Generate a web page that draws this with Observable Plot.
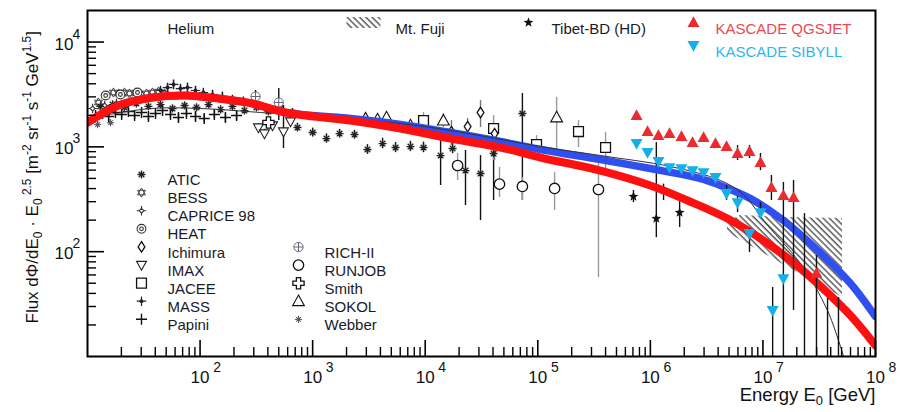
<!DOCTYPE html>
<html><head><meta charset="utf-8">
<script src="https://cdn.jsdelivr.net/npm/d3@7"></script>
<script src="https://cdn.jsdelivr.net/npm/@observablehq/plot@0.6"></script>
<style>body{margin:0;background:#fff;}</style>
</head><body><div id="chart"></div>
<script>
// ---------- model curves (E [GeV], flux) ----------
const redE  = [10, 18.8, 37.8, 74.3, 146, 292, 574, 2170, 6030, 16800, 46700, 106000, 360000, 1.0e6, 2.14e6, 4.84e6, 1.1e7, 2.16e7, 3.06e7, 6.0e7, 1.0e8];
const redF  = [1707, 2483, 2958, 3090, 2891, 2592, 2128, 1783, 1497, 1201, 986, 791, 594, 428, 308, 207, 120, 69, 49.7, 24.6, 12.7];
const blueE = [10, 18.8, 37.8, 74.3, 146, 292, 574, 2170, 6030, 16800, 46700, 106000, 360000, 1.0e6, 2.79e6, 4.2e6, 7.76e6, 1.52e7, 3.06e7, 6.0e7, 1.0e8];
const blueF = [1707, 2483, 2958, 3090, 2891, 2592, 2128, 1862, 1633, 1371, 1125, 944, 757, 621, 499, 428, 321, 198, 103, 49.7, 24];
const thinE = [10, 36.3, 101, 344, 1443, 6030, 16800, 106000, 360000, 1.51e6, 4.2e6, 6.7e6, 1.1e7, 2.16e7, 3.75e7, 5.2e7];
const thinF = [1862, 2322, 2322, 2128, 1905, 1670, 1432, 1007, 827, 649, 478, 351, 178, 77, 27.4, 10];
// Mt. Fuji band
const fujiE  = [4.84e6, 6.3e6, 1.5e7, 5.1e7];
const fujiLo = [152, 129, 76, 36.5];
const fujiHi = [190, 222, 212, 207];

// ---------- direct measurements ----------
const aticE = [13.0, 16.7, 21.3, 27.2, 34.8, 44.5, 56.9, 72.8, 93.0, 119, 152, 194, 248, 317, 405, 518, 662, 733, 1000, 1327, 1735, 2355, 3070, 4180, 5450, 7400, 9660, 13700, 17500, 22800, 31000, 40500, 73000];
const aticF = [2430, 2535, 2375, 2590, 2430, 2535, 2320, 2480, 2375, 2535, 2270, 2430, 2220, 2375, 2175, 2320, 2130, 1530, 1371, 1201, 1340, 1312, 944, 1076, 986, 1007, 986, 826, 965, 594, 557, 864, 2081];
const aticLo = [2250, 2350, 2200, 2400, 2250, 2350, 2150, 2300, 2200, 2350, 2100, 2250, 2050, 2200, 2000, 2130, 1950, 1400, 1250, 1090, 1220, 1190, 850, 960, 880, 900, 880, 428, 860, 276, 198, 308, 308];
const aticHi = [2620, 2730, 2560, 2790, 2620, 2730, 2500, 2670, 2560, 2730, 2450, 2620, 2400, 2560, 2350, 2500, 2320, 1680, 1510, 1330, 1470, 1440, 1050, 1210, 1100, 1130, 1110, 1430, 1080, 923, 826, 1497, 3228];

const bessE = [12.5, 17.0, 18.9, 21.3, 23.6, 26.7, 30.2, 33.4, 37.8, 42.7, 48.3];
const bessF = [2650, 3300, 3230, 3300, 3230, 3300, 3160, 3230, 3300, 3370, 3230];
const bessErr = [0.05, 0.04, 0.04, 0.05, 0.04, 0.05, 0.04, 0.05, 0.05, 0.06, 0.05];

const capE = [11.1, 14.2, 18.1];
const capF = [2320, 2480, 2590];
const capErr = [0.06, 0.06, 0.07];

const heatE = [14.5, 19.6, 27.8];
const heatF = [3090, 3160, 3300];
const heatErr = [0.06, 0.07, 0.08];

const ichE = [17100, 23800, 31000, 41300];
const ichF = [1400, 1563, 2128, 1340];
const ichLo = [1030, 1280, 1530, 741];
const ichHi = [1780, 1862, 2770, 1633];

const imaxE = [330, 373, 440, 551, 636];
const imaxF = [1530, 1340, 1600, 1400, 1745];
const imaxLo = [1400, 1220, 1470, 965, 1600];
const imaxHi = [1670, 1470, 1740, 2483, 1900];

const jaceeE = [9660, 40500, 97500, 230000, 400000];
const jaceeF = [1780, 1497, 1053, 1400, 986];
const jaceeLo = [1430, 741, 965, 986, 621];
const jaceeHi = [2128, 1990, 1280, 1780, 1371];

const massE = [44.5, 51.4, 58.1, 67.0, 77.3, 91.1, 107, 129, 158, 194, 243];
const massF = [3450, 3680, 3940, 3600, 3680, 3450, 3300, 3160, 3020, 2830, 2710];
const massErr = [0.08, 0.09, 0.1, 0.09, 0.1, 0.09, 0.08, 0.09, 0.1, 0.09, 0.1];

const papE = [11.8, 13.6, 15.4, 17.7, 20.1, 23.1, 26.2, 30.2, 34.8, 40.2, 46.4, 54.6, 64.3, 75.7, 91.1, 109, 134, 168, 211];
const papF = [1990, 2080, 1950, 2130, 2035, 2170, 1990, 2130, 1950, 2080, 2220, 2035, 1905, 2080, 1950, 1862, 2035, 1905, 1990];
const papErr = [0.08, 0.07, 0.09, 0.07, 0.08, 0.07, 0.08, 0.07, 0.09, 0.08, 0.07, 0.08, 0.09, 0.08, 0.1, 0.1, 0.09, 0.1, 0.11];

const richE = [311, 500];
const richF = [3023, 2650];
const richLo = [2483, 1780];
const richHi = [3450, 3600];

const runE = [19400, 45700, 73000, 141000, 346000];
const runF = [664, 441, 419, 401, 392];
const runLo = [478, 329, 308, 247, 56.6];
const runHi = [864, 635, 510, 569, 693];

const smithE = [405];
const smithF = [1707];
const smithLo = [1550];
const smithHi = [1880];

const sokolE = [2950, 3770, 4530, 7400, 14500, 147000];
const sokolF = [1862, 1823, 1905, 1600, 1780, 1905];
const sokolLo = [1750, 1700, 1790, 1500, 1530, 923];
const sokolHi = [1990, 1950, 2030, 1710, 2081, 2958];

const webE = [12.3, 16.0];
const webF = [1630, 1700];
const webErr = [0.06, 0.06];

// ---------- air-shower measurements ----------
const tibE = [7.08e5, 1.13e6, 1.31e6, 1.82e6];
const tibF = [336, 207, 383, 236];
const tibLo = [294, 136, 308, 170];
const tibHi = [383, 1100, 441, 322];

const qgsE = [7.54e5, 9.44e5, 1.18e6, 1.48e6, 1.89e6, 2.37e6, 2.97e6, 3.79e6, 4.75e6, 5.95e6, 7.60e6, 9.51e6, 1.19e7, 1.52e7, 1.87e7, 2.99e7];
const qgsF = [1990, 1400, 1280, 1340, 1256, 1100, 1228, 1076, 1007, 864, 903, 709, 409, 343, 329, 62];
const qgsLo = [1990, 1400, 1280, 1340, 1256, 1100, 1228, 1076, 1007, 741, 774, 594, 308, 82, 27.5, 10];
const qgsHi = [1990, 1400, 1280, 1340, 1256, 1100, 1228, 1076, 1007, 1030, 1030, 864, 533, 457, 478, 92];

const sibE = [7.54e5, 9.44e5, 1.18e6, 1.48e6, 1.89e6, 2.37e6, 2.97e6, 3.79e6, 4.75e6, 5.95e6, 7.60e6, 9.51e6, 1.22e7, 1.52e7, 2.34e7, 3.75e7, 4.69e7];
const sibF = [1076, 883, 725, 635, 621, 594, 569, 510, 359, 294, 149, 236, 27.5, 55.4, 6, 6, 6];
const sibLo = [1076, 883, 725, 635, 621, 594, 569, 510, 308, 236, 98, 221, 9, 9, 5, 5, 5];
const sibHi = [1076, 883, 725, 635, 621, 594, 569, 510, 428, 336, 166, 294, 45.5, 103, 231, 35.7, 36.5];

// ---------- axis ticks & legend labels ----------
const xMajor = [1e2, 1e3, 1e4, 1e5, 1e6, 1e7, 1e8];
const yMajor = [1e2, 1e3, 1e4];
const leftLegend = ["ATIC", "BESS", "CAPRICE 98", "HEAT", "Ichimura", "IMAX", "JACEE", "MASS", "Papini"];
const rightLegend = ["RICH-II", "RUNJOB", "Smith", "SOKOL", "Webber"];
const yTitle = "Flux dΦ/dE0 · E0 2.5 [m-2 sr-1 s-1 GeV1.5]";
const xTitle = "Energy E0 [GeV]";

// ---------- helpers ----------
const pts = (E, F, lo, hi) => E.map((e, i) => ({E: e, F: F[i], lo: lo[i], hi: hi[i]}));
const ptsRel = (E, F, err) => E.map((e, i) => ({E: e, F: F[i], lo: F[i] * (1 - err[i]), hi: F[i] * (1 + err[i])}));
const curve = (E, F) => E.map((e, i) => ({E: e, F: F[i]}));
const xMinor = [], yMinor = [];
for (let n = 1; n < 8; n++) for (let k = 2; k < 10; k++) xMinor.push(k * 10 ** n);
for (let n = 1; n < 5; n++) for (let k = 2; k < 10; k++) if (k * 10 ** n < 2e4) yMinor.push(k * 10 ** n);

// ---------- symbols ----------
const R = s => Math.sqrt(s / Math.PI);
const S = {
  triUp: {draw(c, s) { const r = R(s); c.moveTo(0, -r); c.lineTo(r * 0.95, r * 0.7); c.lineTo(-r * 0.95, r * 0.7); c.closePath(); }},
  triDown: {draw(c, s) { const r = R(s); c.moveTo(0, r); c.lineTo(r * 0.95, -r * 0.7); c.lineTo(-r * 0.95, -r * 0.7); c.closePath(); }},
  square: {draw(c, s) { const r = R(s) * 0.85; c.rect(-r, -r, 2 * r, 2 * r); }},
  circle: {draw(c, s) { const r = R(s); c.moveTo(r, 0); c.arc(0, 0, r, 0, 2 * Math.PI); c.closePath(); }},
  diamond: {draw(c, s) { const r = R(s); c.moveTo(0, -r); c.lineTo(r * 0.65, 0); c.lineTo(0, r); c.lineTo(-r * 0.65, 0); c.closePath(); }},
  plus: {draw(c, s) { const r = R(s); c.moveTo(-r, 0); c.lineTo(r, 0); c.moveTo(0, -r); c.lineTo(0, r); }},
  asterisk: {draw(c, s) { const r = R(s); for (let k = 0; k < 4; k++) { const a = k * Math.PI / 4, x = r * Math.cos(a), y = r * Math.sin(a); c.moveTo(-x, -y); c.lineTo(x, y); } }},
  hexagram: {draw(c, s) { const r = R(s); for (const off of [-Math.PI / 2, Math.PI / 2]) { for (let k = 0; k < 3; k++) { const a = off + k * 2 * Math.PI / 3, x = r * Math.cos(a), y = r * Math.sin(a); k ? c.lineTo(x, y) : c.moveTo(x, y); } c.closePath(); } }},
  caprice: {draw(c, s) { const r = R(s), q = r * 0.5; c.moveTo(0, -q); c.lineTo(q, 0); c.lineTo(0, q); c.lineTo(-q, 0); c.closePath(); c.moveTo(0, -r); c.lineTo(0, -q); c.moveTo(0, q); c.lineTo(0, r); c.moveTo(-r, 0); c.lineTo(-q, 0); c.moveTo(q, 0); c.lineTo(r, 0); }},
  heat: {draw(c, s) { const r = R(s), q = r * 0.42; c.moveTo(r, 0); c.arc(0, 0, r, 0, 2 * Math.PI); c.closePath(); c.moveTo(q, 0); c.arc(0, 0, q, 0, 2 * Math.PI); c.closePath(); }},
  mass: {draw(c, s) { const r = R(s), q = r * 0.3; c.moveTo(-r, 0); c.lineTo(r, 0); c.moveTo(0, -r); c.lineTo(0, r); c.moveTo(q, 0); c.arc(0, 0, q, 0, 2 * Math.PI); }},
  rich: {draw(c, s) { const r = R(s); c.moveTo(r, 0); c.arc(0, 0, r, 0, 2 * Math.PI); c.closePath(); c.moveTo(-r, 0); c.lineTo(r, 0); c.moveTo(0, -r); c.lineTo(0, r); }},
  smith: {draw(c, s) { const r = R(s), w = r * 0.38; const p = [[-w,-r],[w,-r],[w,-w],[r,-w],[r,w],[w,w],[w,r],[-w,r],[-w,w],[-r,w],[-r,-w],[-w,-w]]; p.forEach(([x, y], i) => i ? c.lineTo(x, y) : c.moveTo(x, y)); c.closePath(); }},
  webber: {draw(c, s) { const r = R(s); for (let k = 0; k < 4; k++) { const a = k * Math.PI / 4, x = r * Math.cos(a), y = r * Math.sin(a); c.moveTo(-x, -y); c.lineTo(x, y); } const q = r * 0.45; c.moveTo(q, 0); c.arc(0, 0, q, 0, 2 * Math.PI); }},
  star5: {draw(c, s) { const r = R(s), ri = r * 0.42; for (let k = 0; k < 10; k++) { const a = -Math.PI / 2 + k * Math.PI / 5, rr = k % 2 ? ri : r; k ? c.lineTo(rr * Math.cos(a), rr * Math.sin(a)) : c.moveTo(rr * Math.cos(a), rr * Math.sin(a)); } c.closePath(); }},
  swatch: {draw(c) { c.rect(-17, -5.5, 34, 11); }}
};

const ST = {
  "ATIC": {symbol: S.asterisk, r: 4, stroke: "#222", fill: "none", sw: 1.3, bar: "#111"},
  "BESS": {symbol: S.hexagram, r: 4.6, stroke: "#444", fill: "white", sw: 1, bar: "#333"},
  "CAPRICE 98": {symbol: S.caprice, r: 4.8, stroke: "#334", fill: "white", sw: 1.1, bar: "#333"},
  "HEAT": {symbol: S.heat, r: 4.4, stroke: "#333", fill: "white", sw: 1.1, bar: "#333"},
  "Ichimura": {symbol: S.diamond, r: 5.2, stroke: "#111", fill: "white", sw: 1.3, bar: "#777"},
  "IMAX": {symbol: S.triDown, r: 5.2, stroke: "#222", fill: "white", sw: 1.1, bar: "#111"},
  "JACEE": {symbol: S.square, r: 5.8, stroke: "#111", fill: "white", sw: 1.3, bar: "#999"},
  "MASS": {symbol: S.mass, r: 4.8, stroke: "#223", fill: "none", sw: 1.2, bar: "#111"},
  "Papini": {symbol: S.plus, r: 5.5, stroke: "#111", fill: "none", sw: 1.4, bar: "#111"},
  "RICH-II": {symbol: S.rich, r: 4.6, stroke: "#667", fill: "white", sw: 1, bar: "#111"},
  "RUNJOB": {symbol: S.circle, r: 5.2, stroke: "#111", fill: "white", sw: 1.3, bar: "#999"},
  "Smith": {symbol: S.smith, r: 5.6, stroke: "#111", fill: "white", sw: 1.3, bar: "#111"},
  "SOKOL": {symbol: S.triUp, r: 6.2, stroke: "#111", fill: "white", sw: 1.1, bar: "#999"},
  "Webber": {symbol: S.webber, r: 3.6, stroke: "#556", fill: "none", sw: 1, bar: "#333"},
  "Tibet-BD (HD)": {symbol: S.star5, r: 5.2, stroke: "none", fill: "#111", sw: 1, bar: "#111"},
  "KASCADE QGSJET": {symbol: S.triUp, r: 6.3, stroke: "none", fill: "#ec2a30", sw: 1, bar: "#111"},
  "KASCADE SIBYLL": {symbol: S.triDown, r: 6.3, stroke: "none", fill: "#16b0e8", sw: 1, bar: "#111"}
};

const direct = [
  ["BESS", ptsRel(bessE, bessF, bessErr)],
  ["CAPRICE 98", ptsRel(capE, capF, capErr)],
  ["HEAT", ptsRel(heatE, heatF, heatErr)],
  ["Webber", ptsRel(webE, webF, webErr)],
  ["MASS", ptsRel(massE, massF, massErr)],
  ["Papini", ptsRel(papE, papF, papErr)],
  ["ATIC", pts(aticE, aticF, aticLo, aticHi)],
  ["RICH-II", pts(richE, richF, richLo, richHi)],
  ["IMAX", pts(imaxE, imaxF, imaxLo, imaxHi)],
  ["Smith", pts(smithE, smithF, smithLo, smithHi)],
  ["SOKOL", pts(sokolE, sokolF, sokolLo, sokolHi)],
  ["JACEE", pts(jaceeE, jaceeF, jaceeLo, jaceeHi)],
  ["Ichimura", pts(ichE, ichF, ichLo, ichHi)],
  ["RUNJOB", pts(runE, runF, runLo, runHi)],
  ["Tibet-BD (HD)", pts(tibE, tibF, tibLo, tibHi)]
];
const eas = [
  ["KASCADE QGSJET", pts(qgsE, qgsF, qgsLo, qgsHi)],
  ["KASCADE SIBYLL", pts(sibE, sibF, sibLo, sibHi)]
];

const dotOf = (name, data) => { const st = ST[name]; return Plot.dot(data, {x: "E", y: "F", symbol: st.symbol, r: st.r, stroke: st.stroke, fill: st.fill, strokeWidth: st.sw, clip: true}); };
const barOf = (name, data) => Plot.ruleX(data, {x: "E", y1: "lo", y2: "hi", stroke: ST[name].bar, strokeWidth: 1.4, clip: true});

const FW = 788, FH = 346, FL = 87, FT = 10;
const marks = [];
marks.push(Plot.areaY(fujiE.map((e, i) => ({E: e, lo: fujiLo[i], hi: fujiHi[i]})), {x: "E", y1: "lo", y2: "hi", fill: "url(#hatch)"}));
for (const [n, d] of direct) marks.push(barOf(n, d));
for (const [n, d] of direct) marks.push(dotOf(n, d));
marks.push(Plot.line(curve(blueE, blueF), {x: "E", y: "F", stroke: "#2f4ff0", strokeWidth: 7.5, curve: "catmull-rom", clip: true}));
marks.push(Plot.line(curve(thinE, thinF), {x: "E", y: "F", stroke: "#333", strokeWidth: 1, curve: "catmull-rom", clip: true}));
marks.push(Plot.line(curve(redE, redF), {x: "E", y: "F", stroke: "#ff1010", strokeWidth: 8, curve: "catmull-rom", clip: true}));
for (const [n, d] of eas) marks.push(barOf(n, d));
for (const [n, d] of eas) marks.push(dotOf(n, d));

// ticks (inside)
marks.push(Plot.tickX(xMinor, {x: d => d, insetTop: FH - 9, stroke: "#000", strokeWidth: 1.4}));
marks.push(Plot.tickX(xMajor, {x: d => d, insetTop: FH - 16, stroke: "#000", strokeWidth: 1.6}));
marks.push(Plot.tickY(yMinor, {y: d => d, insetRight: FW - 9, stroke: "#000", strokeWidth: 1.4}));
marks.push(Plot.tickY(yMajor, {y: d => d, insetRight: FW - 17, stroke: "#000", strokeWidth: 1.6}));
// tick labels
marks.push(Plot.text(xMajor, {x: d => d, frameAnchor: "bottom", dy: 26, text: () => "10", fontSize: 17, fill: "#111"}));
marks.push(Plot.text(xMajor, {x: d => d, frameAnchor: "bottom", dx: 17, dy: 15, text: d => String(Math.round(Math.log10(d))), fontSize: 14, fill: "#111"}));
marks.push(Plot.text(yMajor, {y: d => d, frameAnchor: "left", dx: -33, dy: 2, text: () => "10", fontSize: 17, fill: "#111"}));
marks.push(Plot.text(yMajor, {y: d => d, frameAnchor: "left", dx: -15, dy: -8, text: d => String(Math.round(Math.log10(d))), fontSize: 14, fill: "#111"}));
// axis titles (y title starts at the bottom and runs upward)
marks.push(Plot.text([yTitle], {frameAnchor: "left", dx: 32 - FL, dy: 140, rotate: -90, textAnchor: "start", text: d => d, fontSize: 17, fill: "#111"}));
marks.push(Plot.text([xTitle], {frameAnchor: "bottom-right", dy: 44, textAnchor: "end", text: d => d, fontSize: 18.5, fill: "#111"}));

// legends
const legendText = (label, x, y, color) => Plot.text([label], {frameAnchor: "top-left", dx: x - FL, dy: y - FT, text: d => d, textAnchor: "start", fontSize: 15, fill: color || "#1a1a2a"});
const legendDot = (name, x, y) => { const st = ST[name]; return Plot.dot([name], {frameAnchor: "top-left", dx: x - FL, dy: y - FT, symbol: st.symbol, r: st.r, stroke: st.stroke, fill: st.fill, strokeWidth: st.sw}); };
leftLegend.forEach((n, i) => { const y = 174 + i * 18.1; marks.push(legendDot(n, 141, y), legendText(n, 167, y)); });
rightLegend.forEach((n, i) => { const y = 246.5 + i * 18.1; marks.push(legendDot(n, 298, y), legendText(n, 324, y)); });
marks.push(legendText("Helium", 167, 23));
marks.push(Plot.dot(["Mt. Fuji"], {frameAnchor: "top-left", dx: 363 - FL, dy: 22 - FT, symbol: S.swatch, fill: "url(#hatch)", stroke: "none"}));
marks.push(legendText("Mt. Fuji", 395, 23));
marks.push(legendDot("Tibet-BD (HD)", 528, 22));
marks.push(legendText("Tibet-BD (HD)", 551, 23));
marks.push(legendDot("KASCADE QGSJET", 693, 22));
marks.push(legendText("KASCADE QGSJET", 715, 23, "#ee4650"));
marks.push(legendDot("KASCADE SIBYLL", 693, 45));
marks.push(legendText("KASCADE SIBYLL", 715, 46, "#2db6ec"));

marks.push(Plot.frame({stroke: "#000", strokeWidth: 2}));

const chart = Plot.plot({
  width: 900, height: 412,
  marginLeft: 87, marginRight: 25, marginTop: 10, marginBottom: 56,
  x: {type: "log", domain: [10, 1e8], axis: null},
  y: {type: "log", domain: [10, 2e4], axis: null},
  style: {fontFamily: '"Liberation Sans", Arial, Helvetica, sans-serif', background: "white", color: "#111", overflow: "visible"},
  marks
});
document.getElementById("chart").append(chart);

// hatch pattern
const svg = d3.select(chart);
const pat = svg.insert("defs", ":first-child").append("pattern")
  .attr("id", "hatch").attr("patternUnits", "userSpaceOnUse")
  .attr("width", 4.4).attr("height", 10).attr("patternTransform", "rotate(-45)");
pat.append("line").attr("x1", 1).attr("y1", 0).attr("x2", 1).attr("y2", 10).attr("stroke", "#222").attr("stroke-width", 1.1);

// rich text (sub/superscripts)
function rich(plain, parts, base) {
  const t = svg.selectAll("text").filter(function () { return this.textContent === plain; });
  t.text(null);
  let shift = 0;
  for (const [s, kind] of parts) {
    const want = kind === "sup" ? -7 : kind === "sub" ? 4 : 0;
    t.append("tspan").attr("dy", want - shift).attr("font-size", kind ? base * 0.7 : base).text(s);
    shift = want;
  }
}
rich(yTitle, [["Flux dΦ/dE"], ["0", "sub"], [" · E"], ["0", "sub"], [" 2.5", "sup"], [" [m"], ["-2", "sup"], [" sr"], ["-1", "sup"], [" s"], ["-1", "sup"], [" GeV"], ["1.5", "sup"], ["]"]], 17);
rich(xTitle, [["Energy E"], ["0", "sub"], [" [GeV]"]], 18.5);
</script></body></html>
